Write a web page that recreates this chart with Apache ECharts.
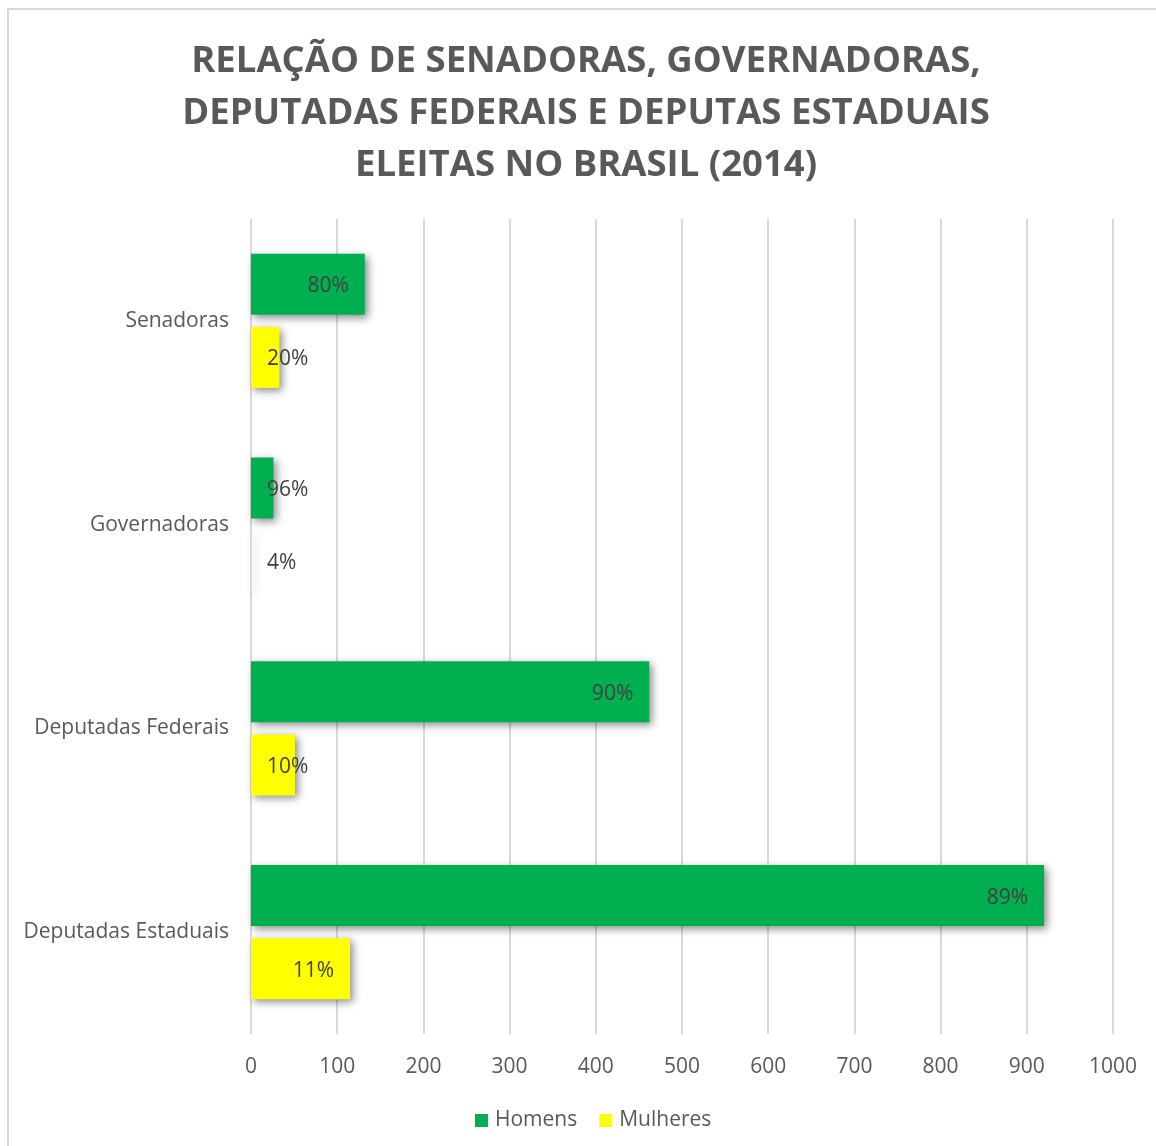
<!DOCTYPE html>
<html>
<head>
<meta charset="utf-8">
<script src="https://cdn.jsdelivr.net/npm/echarts@6/dist/echarts.min.js"></script>
<style>
  html, body { margin: 0; padding: 0; background: #ffffff; }
  #chart { width: 1156px; height: 1146px; }
</style>
</head>
<body>
<div id="chart"></div>
<script>
    // dados
    var categorias = ['Senadoras', 'Governadoras', 'Deputadas Federais', 'Deputadas Estaduais'];
    var homens = [132, 26, 462, 920];
    var mulheres = [33, 1, 51, 115];
    var rotulosHomens = ['80%', '96%', '90%', '89%'];
    var rotulosMulheres = ['20%', '4%', '10%', '11%'];
    var xTicks = [0, 100, 200, 300, 400, 500, 600, 700, 800, 900, 1000];

    var fonte = '"Open Sans", "Noto Sans", sans-serif';

    function montaDados(valores, rotulos) {
        return valores.map(function (v, i) {
            var curto = v < 60;
            return {
                value: v,
                label: {
                    position: curto ? 'insideLeft' : 'insideRight',
                    distance: 16,
                    formatter: rotulos[i]
                }
            };
        });
    }

    var sombra = {
        shadowColor: 'rgba(0,0,0,0.45)',
        shadowBlur: 8,
        shadowOffsetX: 3,
        shadowOffsetY: 3
    };

    var myChart = echarts.init(document.getElementById('chart'));
    myChart.setOption({
        backgroundColor: '#ffffff',
        animation: false,
        title: {
            text: 'RELAÇÃO DE SENADORAS, GOVERNADORAS,\nDEPUTADAS FEDERAIS E DEPUTAS ESTADUAIS\nELEITAS NO BRASIL (2014)',
            left: 581,
            textAlign: 'center',
            top: 31,
            textStyle: {
                color: '#595959',
                fontFamily: fonte,
                fontWeight: 'bold',
                fontSize: 36.5,
                lineHeight: 52,
                align: 'center'
            }
        },
        graphic: [{
            type: 'rect',
            shape: { x: 8, y: 9, width: 1170, height: 1160 },
            style: { fill: 'none', stroke: '#d9d9d9', lineWidth: 2 },
            silent: true
        }],
        legend: {
            bottom: 15,
            left: 475,
            itemWidth: 13,
            itemHeight: 13,
            itemGap: 22,
            padding: 0,
            icon: 'rect',
            textStyle: { color: '#595959', fontFamily: fonte, fontSize: 21, padding: [0, 0, 0, 2] },
            data: ['Homens', 'Mulheres']
        },
        grid: {
            left: 251,
            right: 43,
            top: 219,
            bottom: 112,
            containLabel: false
        },
        xAxis: {
            type: 'value',
            min: xTicks[0],
            max: xTicks[xTicks.length - 1],
            interval: 100,
            axisLine: { show: false },
            axisTick: { show: false },
            splitLine: { lineStyle: { color: '#d9d9d9', width: 2 } },
            axisLabel: {
                color: '#595959',
                fontFamily: fonte,
                fontSize: 21,
                margin: 23,
                formatter: function (v) { return String(v); }
            }
        },
        yAxis: {
            type: 'category',
            inverse: true,
            data: categorias,
            axisLine: { show: false },
            axisTick: { show: false },
            axisLabel: {
                color: '#595959',
                fontFamily: fonte,
                fontSize: 21,
                margin: 22
            }
        },
        series: [{
            name: 'Homens',
            type: 'bar',
            barWidth: 61,
            barGap: '20%',
            itemStyle: Object.assign({ color: '#00B050' }, sombra),
            label: {
                show: true,
                color: '#404040',
                fontFamily: fonte,
                fontSize: 21,
                offset: [0, 2]
            },
            data: montaDados(homens, rotulosHomens)
        }, {
            name: 'Mulheres',
            type: 'bar',
            barWidth: 61,
            barGap: '20%',
            itemStyle: Object.assign({ color: '#FFFF00' }, sombra),
            label: {
                show: true,
                color: '#404040',
                fontFamily: fonte,
                fontSize: 21,
                offset: [0, 2]
            },
            data: montaDados(mulheres, rotulosMulheres)
        }]
    });
</script>
</body>
</html>
